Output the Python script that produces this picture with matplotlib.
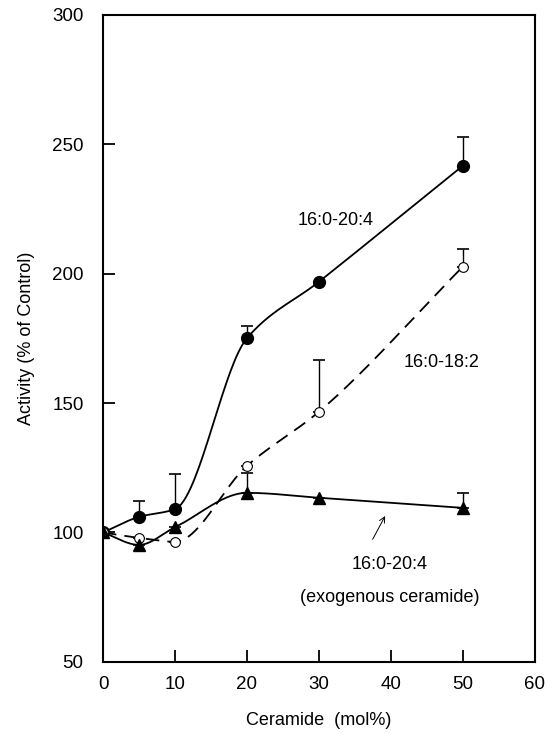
import numpy as np
import matplotlib.pyplot as plt

plt.rcParams['font.family'] = ['Liberation Sans', 'DejaVu Sans']

ceramide = [0, 5, 10, 20, 30, 50]

# 16:0-20:4 (filled circles)
act_204 = [100, 106, 109, 175, 196.8, 241.6]
err_204 = [0, 6, 13.6, 4.6, 0, 11.3]

# 16:0-18:2 (open circles)
act_182 = [100, 97.9, 96.4, 125.7, 146.6, 202.6]
err_182 = [0, 0, 0, 0, 20.1, 7.0]

# 16:0-20:4 exogenous ceramide (triangles)
act_exo = [100, 95.2, 102, 115.3, 113.4, 109.5]
err_exo = [0, 0, 0, 7.7, 0, 5.8]


def pchip(x, y, xs):
    x = np.asarray(x, float)
    y = np.asarray(y, float)
    h = np.diff(x)
    d = np.diff(y) / h
    m = np.zeros_like(y)
    for k in range(1, len(x) - 1):
        if d[k - 1] * d[k] > 0:
            w1 = 2 * h[k] + h[k - 1]
            w2 = h[k] + 2 * h[k - 1]
            m[k] = (w1 + w2) / (w1 / d[k - 1] + w2 / d[k])
    m[0] = d[0]
    m[-1] = d[-1]
    out = np.empty_like(xs)
    for i, t in enumerate(xs):
        k = min(np.searchsorted(x, t, side='right') - 1, len(x) - 2)
        s = (t - x[k]) / h[k]
        h00 = 2 * s**3 - 3 * s**2 + 1
        h10 = s**3 - 2 * s**2 + s
        h01 = -2 * s**3 + 3 * s**2
        h11 = s**3 - s**2
        out[i] = h00 * y[k] + h10 * h[k] * m[k] + h01 * y[k + 1] + h11 * h[k] * m[k + 1]
    return out


fig = plt.figure(figsize=(5.45, 7.33), dpi=100)
ax = fig.add_axes([0.189, 0.097, 0.792, 0.883])

xs = np.linspace(0, 50, 300)
ax.plot(xs, pchip(ceramide, act_204, xs), color='black', lw=1.3)
ax.plot(xs, pchip(ceramide, act_182, xs), color='black', lw=1.3, ls=(0, (7.5, 4.5)))
ax.plot(xs, pchip(ceramide, act_exo, xs), color='black', lw=1.3)

def upper_err(e):
    return [np.zeros(len(e)), np.where(np.array(e) > 0, e, np.nan)]

for yv, ev in [(act_204, err_204), (act_182, err_182), (act_exo, err_exo)]:
    ax.errorbar(ceramide, yv, yerr=upper_err(ev), fmt='none',
                ecolor='black', elinewidth=1, capsize=4.5, capthick=1.2)

ax.plot(ceramide, act_204, 'o', color='black', ms=8.5, zorder=5)
ax.plot(ceramide, act_182, 'o', mfc='white', mec='black', mew=0.8, ms=7, zorder=5)
ax.plot(ceramide, act_exo, '^', color='black', ms=8.5, zorder=6)

fs = 13
ax.text(32.3, 220.5, '16:0-20:4', ha='center', va='center', fontsize=fs)
ax.text(47.1, 165.5, '16:0-18:2', ha='center', va='center', fontsize=fs)
ax.text(39.8, 87.8, '16:0-20:4', ha='center', va='center', fontsize=fs)
ax.text(39.8, 75, '(exogenous ceramide)', ha='center', va='center', fontsize=fs)
ax.annotate('', xy=(39.4, 107.3), xytext=(37.3, 96.4),
            arrowprops=dict(arrowstyle='->', color='black', lw=0.7))

ax.set_xlim(0, 60)
ax.set_ylim(50, 300)
ax.set_xticks([0, 10, 20, 30, 40, 50, 60])
ax.set_yticks([50, 100, 150, 200, 250, 300])
ax.tick_params(direction='in', length=8.5, width=1.3, labelsize=13.5)
ax.tick_params(axis='x', pad=10)
ax.tick_params(axis='y', pad=14)
for s in ax.spines.values():
    s.set_linewidth(1.5)

ax.set_xlabel('Ceramide  (mol%)', fontsize=fs, labelpad=14)
ax.set_ylabel('Activity (% of Control)', fontsize=fs, labelpad=12)

fig.savefig('out.png', dpi=100)
